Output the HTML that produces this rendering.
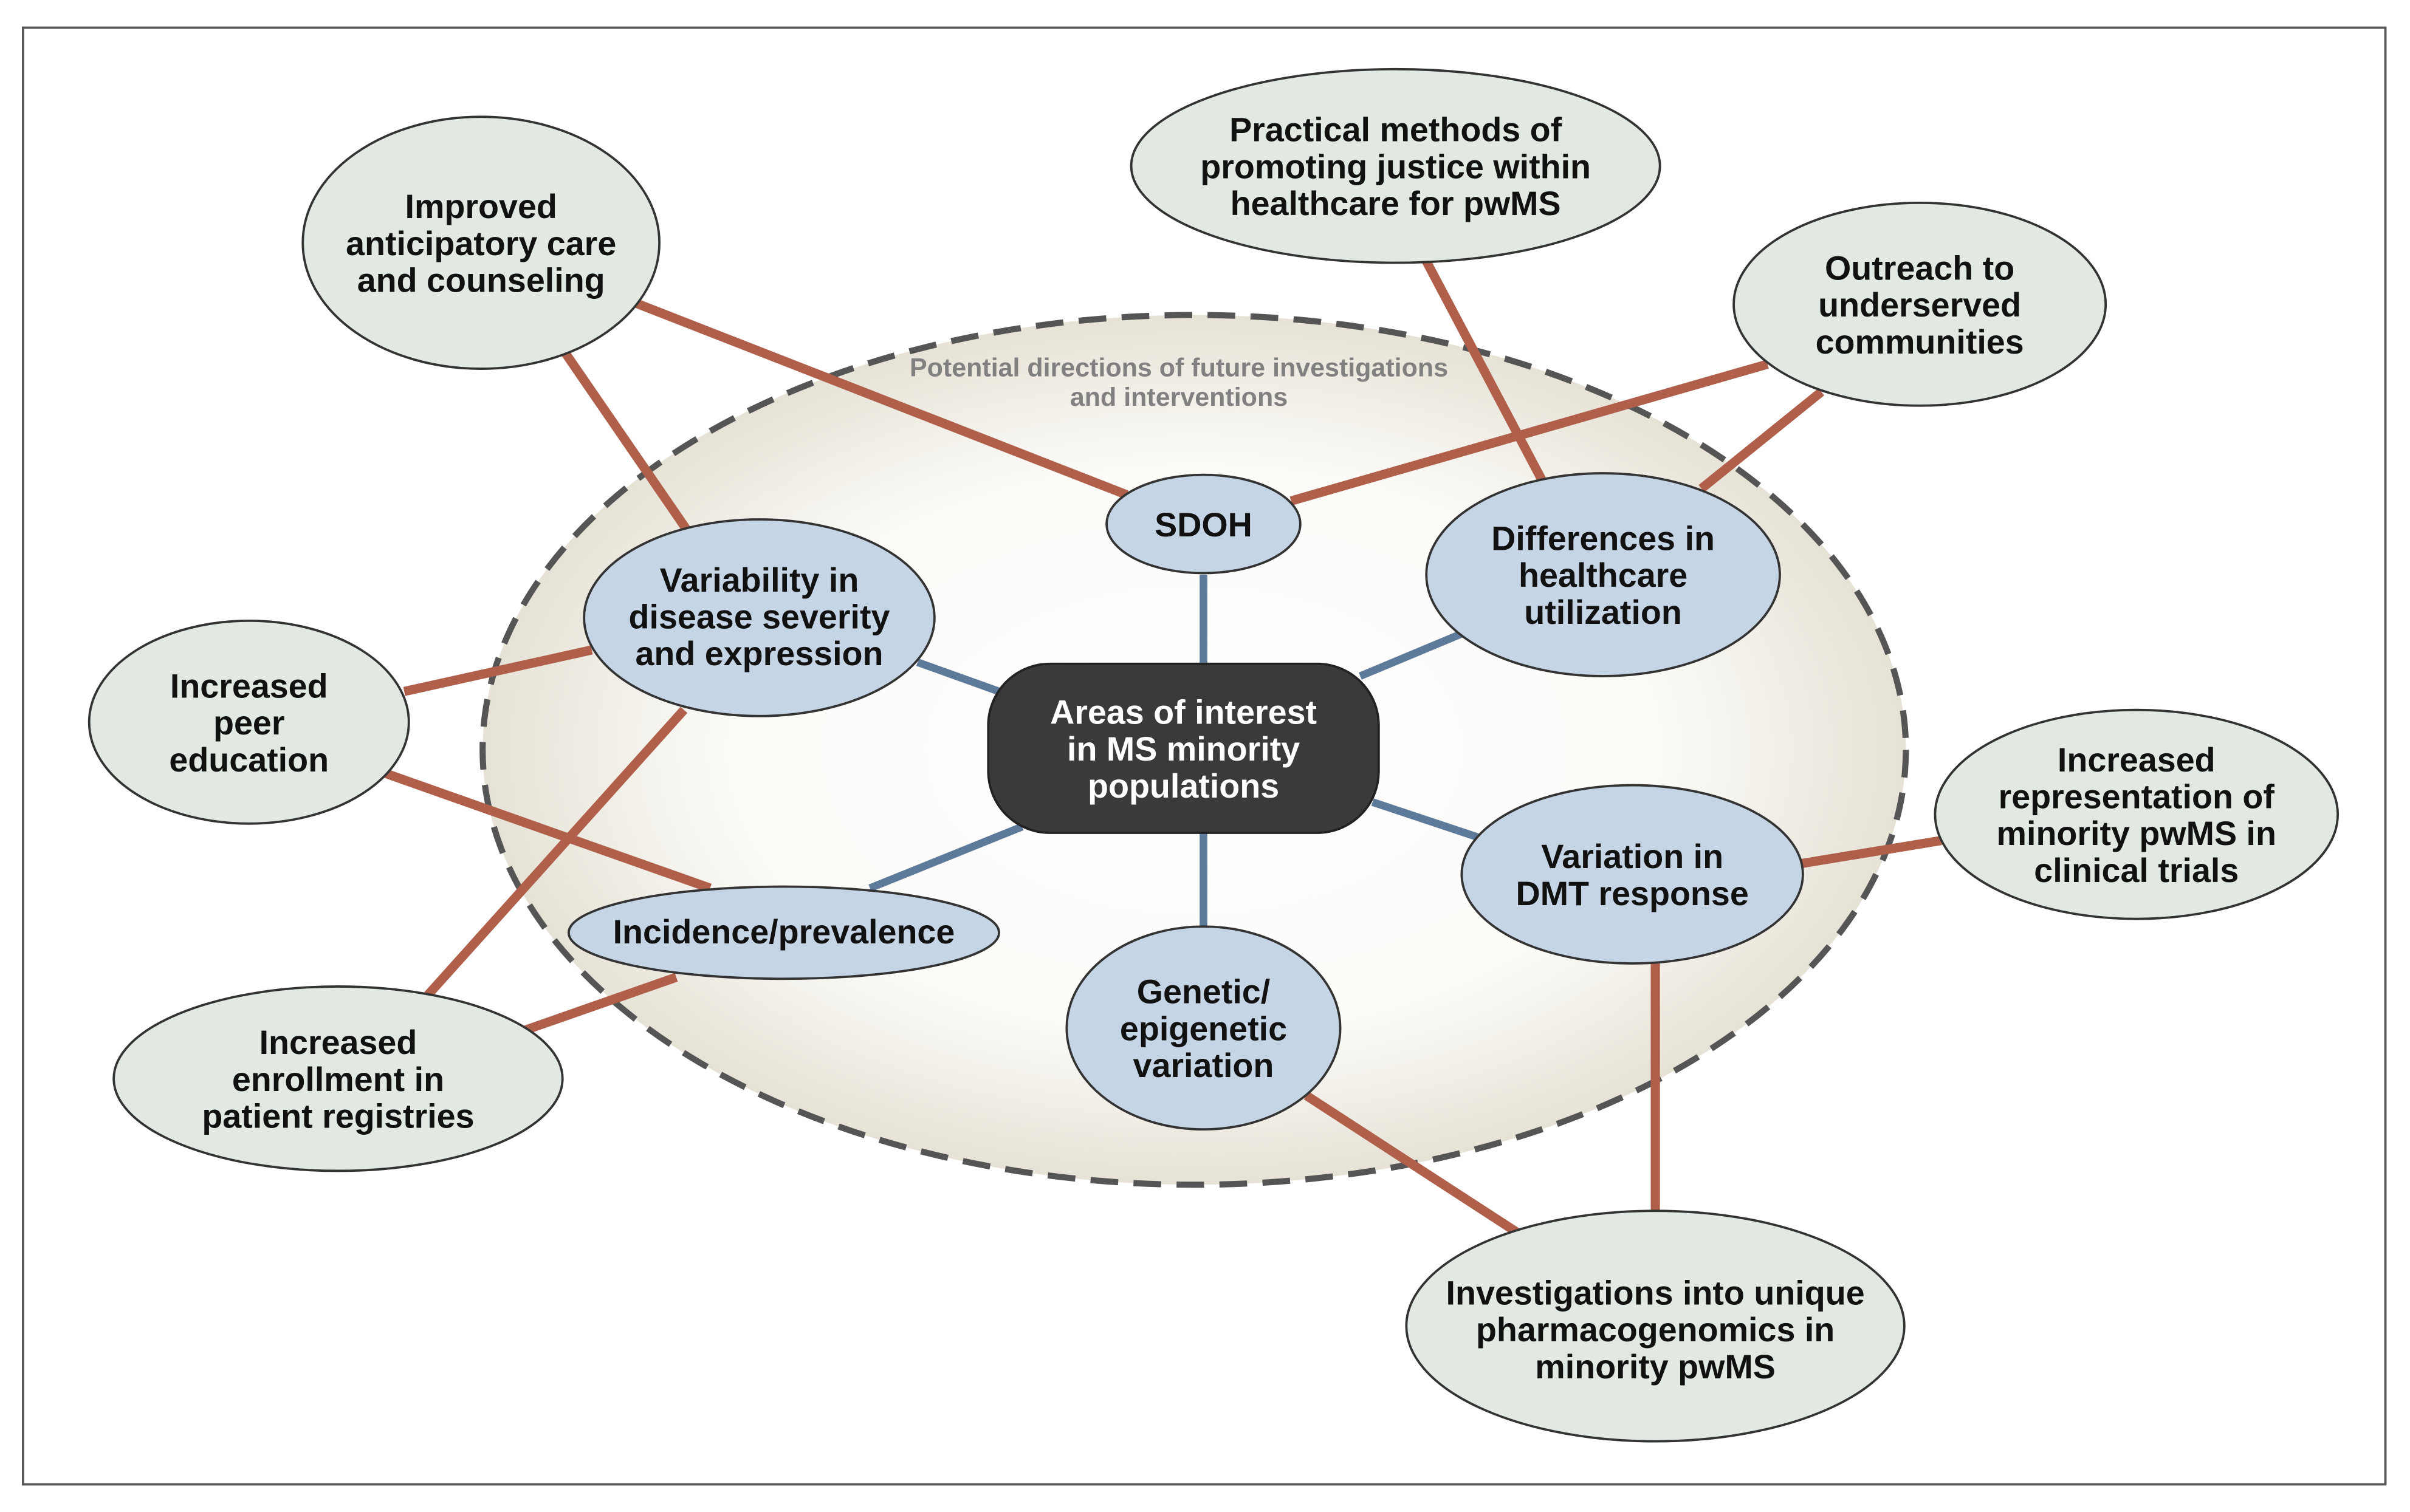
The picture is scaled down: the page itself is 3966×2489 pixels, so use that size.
<!DOCTYPE html>
<html><head><meta charset="utf-8"><style>
html,body{margin:0;padding:0;background:#fff;}
svg{display:block;}
text{font-family:"Liberation Sans",sans-serif;font-weight:bold;text-anchor:middle;fill:#111;}
</style></head><body>
<svg width="3966" height="2489" viewBox="0 0 1568 984" preserveAspectRatio="none" xmlns="http://www.w3.org/2000/svg">
<defs>
<radialGradient id="g" cx="50%" cy="50%" r="50%">
<stop offset="0%" stop-color="#ffffff"/>
<stop offset="65%" stop-color="#fcfbf8"/>
<stop offset="100%" stop-color="#e6e2d6"/>
</radialGradient>
</defs>
<rect x="0" y="0" width="1568" height="984" fill="#fff"/>
<rect x="15" y="18" width="1537" height="948" fill="none" stroke="#555" stroke-width="1.5"/>
<ellipse cx="777" cy="488" rx="463" ry="283" fill="url(#g)" stroke="#555" stroke-width="4" stroke-dasharray="18,10"/>
<text x="767" y="245" font-size="17" style="fill:#808080">Potential directions of future investigations</text>
<text x="767" y="264" font-size="17" style="fill:#808080">and interventions</text>

<g stroke="#b0604a" stroke-width="6" fill="none">
<line x1="413" y1="197" x2="733" y2="322"/>
<line x1="368" y1="230" x2="447" y2="345"/>
<line x1="928" y1="170" x2="1003" y2="312"/>
<line x1="1150" y1="237" x2="840" y2="326"/>
<line x1="1185" y1="255" x2="1107" y2="318"/>
<line x1="263" y1="450" x2="385" y2="423"/>
<line x1="250" y1="503" x2="462" y2="578"/>
<line x1="445" y1="462" x2="278" y2="648"/>
<line x1="440" y1="636" x2="340" y2="671"/>
<line x1="1172" y1="562" x2="1263" y2="547"/>
<line x1="1077" y1="627" x2="1077" y2="790"/>
<line x1="850" y1="713" x2="987" y2="802"/>
</g>
<g stroke="#5d7a9b" stroke-width="5" fill="none">
<line x1="783" y1="374" x2="783" y2="432"/>
<line x1="597" y1="431" x2="650" y2="450"/>
<line x1="885" y1="440" x2="952" y2="412"/>
<line x1="893" y1="522" x2="962" y2="545"/>
<line x1="665" y1="538" x2="566" y2="578"/>
<line x1="783" y1="542" x2="783" y2="603"/>
</g>

<rect x="643" y="432" width="254" height="110" rx="40" fill="#3a3a3a" stroke="#222" stroke-width="1.5"/>
<text x="770" y="471" font-size="22" style="fill:#fff">Areas of interest</text>
<text x="770" y="495" font-size="22" style="fill:#fff">in MS minority</text>
<text x="770" y="519" font-size="22" style="fill:#fff">populations</text>

<g fill="#c6d5e5" stroke="#333" stroke-width="1.5">
<ellipse cx="783" cy="341" rx="63" ry="32"/>
<ellipse cx="494" cy="402" rx="114" ry="64"/>
<ellipse cx="1043" cy="374" rx="115" ry="66"/>
<ellipse cx="1062" cy="569" rx="111" ry="58"/>
<ellipse cx="783" cy="669" rx="89" ry="66"/>
<ellipse cx="510" cy="607" rx="140" ry="30"/>
</g>
<g fill="#e1e9e2" stroke="#333" stroke-width="1.5">
<ellipse cx="313" cy="158" rx="116" ry="82"/>
<ellipse cx="908" cy="108" rx="172" ry="63"/>
<ellipse cx="1249" cy="198" rx="121" ry="66"/>
<ellipse cx="162" cy="470" rx="104" ry="66"/>
<ellipse cx="1390" cy="530" rx="131" ry="68"/>
<ellipse cx="220" cy="702" rx="146" ry="60"/>
<ellipse cx="1077" cy="863" rx="162" ry="75"/>
</g>

<g font-size="22">
<text x="783" y="349">SDOH</text>
<text x="494" y="385">Variability in</text>
<text x="494" y="409">disease severity</text>
<text x="494" y="433">and expression</text>
<text x="1043" y="358">Differences in</text>
<text x="1043" y="382">healthcare</text>
<text x="1043" y="406">utilization</text>
<text x="1062" y="565">Variation in</text>
<text x="1062" y="589">DMT response</text>
<text x="783" y="653">Genetic/</text>
<text x="783" y="677">epigenetic</text>
<text x="783" y="701">variation</text>
<text x="510" y="614">Incidence/prevalence</text>

<text x="313" y="142">Improved</text>
<text x="313" y="166">anticipatory care</text>
<text x="313" y="190">and counseling</text>
<text x="908" y="92">Practical methods of</text>
<text x="908" y="116">promoting justice within</text>
<text x="908" y="140">healthcare for pwMS</text>
<text x="1249" y="182">Outreach to</text>
<text x="1249" y="206">underserved</text>
<text x="1249" y="230">communities</text>
<text x="162" y="454">Increased</text>
<text x="162" y="478">peer</text>
<text x="162" y="502">education</text>
<text x="1390" y="502">Increased</text>
<text x="1390" y="526">representation of</text>
<text x="1390" y="550">minority pwMS in</text>
<text x="1390" y="574">clinical trials</text>
<text x="220" y="686">Increased</text>
<text x="220" y="710">enrollment in</text>
<text x="220" y="734">patient registries</text>
<text x="1077" y="849">Investigations into unique</text>
<text x="1077" y="873">pharmacogenomics in</text>
<text x="1077" y="897">minority pwMS</text>
</g>
</svg>
</body></html>
